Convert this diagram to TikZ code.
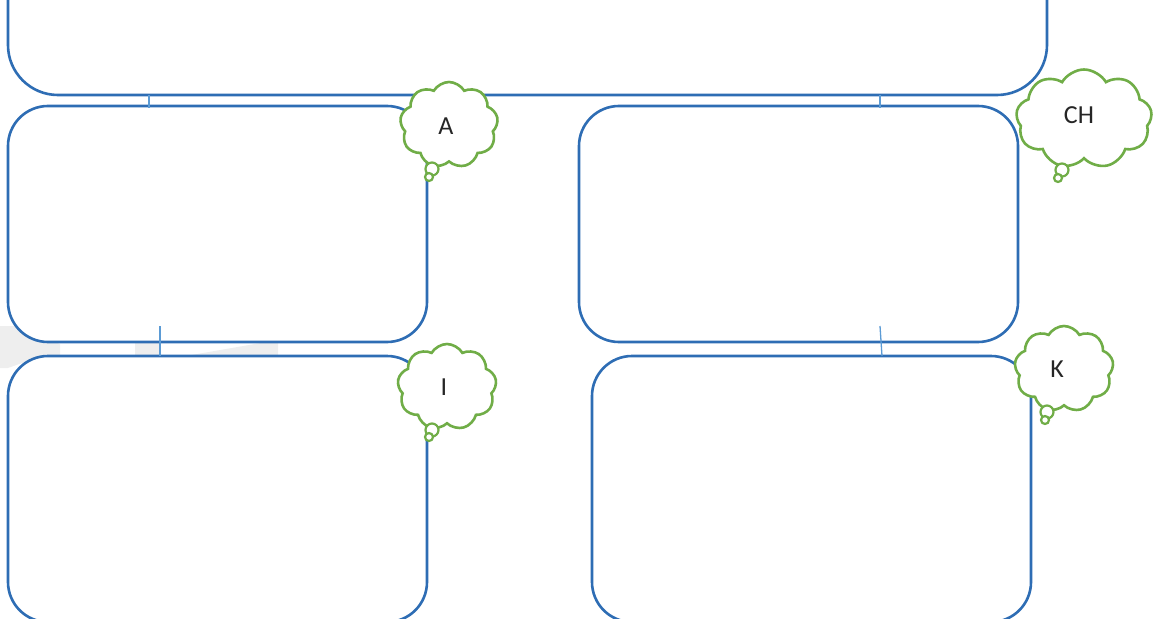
\documentclass[tikz,border=0pt]{standalone}
\usepackage{fontspec}
\newfontfamily\cf{Carlito}
\usetikzlibrary{shapes.symbols}
\definecolor{boxblue}{HTML}{2E6DB4}
\definecolor{linkblue}{HTML}{5B9BD5}
\definecolor{cloudgreen}{HTML}{70AD47}
\definecolor{txt}{HTML}{262626}
\definecolor{wm}{HTML}{EEEEEE}
\tikzset{
  panel/.style={draw=boxblue, line width=2.6pt, fill=white, rectangle, rounded corners=40pt, inner sep=0pt},
  link/.style={draw=linkblue, line width=1.3pt},
  thought/.style={cloud, cloud puffs=9, cloud puff arc=120, draw=cloudgreen, fill=white, line width=2.6pt, inner sep=0pt},
  bubble/.style={circle, draw=cloudgreen, fill=white, line width=2.2pt, inner sep=0pt},
  tag/.style={font=\cf\fontsize{26}{30}\selectfont, text=txt, inner sep=0pt}
}
\begin{document}
\begin{tikzpicture}[x=1pt,y=-1pt]
\useasboundingbox (0,0) rectangle (1153,618);
% faint watermark
\fill[wm] (0,326) -- (14,326) -- (60,344) -- (60,356) -- (25,362) -- (8,368) -- (0,368) -- cycle;
\fill[wm] (135,341) -- (160,341) -- (160,357) -- (135,357) -- cycle;
\fill[wm] (180,357) -- (272,341) -- (278,341) -- (278,357) -- cycle;
% panels
\node[panel, minimum width=1039pt, minimum height=175pt, rounded corners=50pt] (top) at (527.5,7.5) {};
\node[panel, minimum width=419pt, minimum height=236pt] (pa) at (217.5,224) {};
\node[panel, minimum width=439pt, minimum height=236pt] (pch) at (798.5,224) {};
\node[panel, minimum width=419pt, minimum height=266pt] (pi) at (217.5,489) {};
\node[panel, minimum width=439pt, minimum height=266pt] (pk) at (811.5,489) {};
% connectors
\coordinate (c1a) at (149,95); \coordinate (c1b) at (149,108);
\coordinate (c2a) at (880,95); \coordinate (c2b) at (880,108);
\coordinate (c3a) at (160,326); \coordinate (c3b) at (160,356);
\coordinate (c4a) at (880,326); \coordinate (c4b) at (882,356);
\draw[link] (c1a) -- (c1b);
\draw[link] (c2a) -- (c2b);
\draw[link] (c3a) -- (c3b);
\draw[link] (c4a) -- (c4b);
% thought clouds
\node[thought, minimum width=98pt, minimum height=86pt] (ca) at (449,125) {};
\node[bubble, minimum size=13pt] (ca1) at (432,169) {};
\node[bubble, minimum size=8pt] (ca2) at (429,177) {};
\node[tag] (ta) at (446,126) {A};
\node[thought, minimum width=136pt, minimum height=99pt] (cch) at (1084,119) {};
\node[bubble, minimum size=13pt] (cch1) at (1062,170) {};
\node[bubble, minimum size=8pt] (cch2) at (1058,178) {};
\node[tag] (tch) at (1079,115) {CH};
\node[thought, minimum width=99pt, minimum height=86pt] (ci) at (447,387) {};
\node[bubble, minimum size=13pt] (ci1) at (432,430) {};
\node[bubble, minimum size=8pt] (ci2) at (429,437) {};
\node[tag] (ti) at (444,387) {I};
\node[thought, minimum width=99pt, minimum height=86pt] (ck) at (1064,369) {};
\node[bubble, minimum size=13pt] (ck1) at (1047,412) {};
\node[bubble, minimum size=8pt] (ck2) at (1045,420) {};
\node[tag] (tk) at (1057,369) {K};
\end{tikzpicture}
\end{document}
